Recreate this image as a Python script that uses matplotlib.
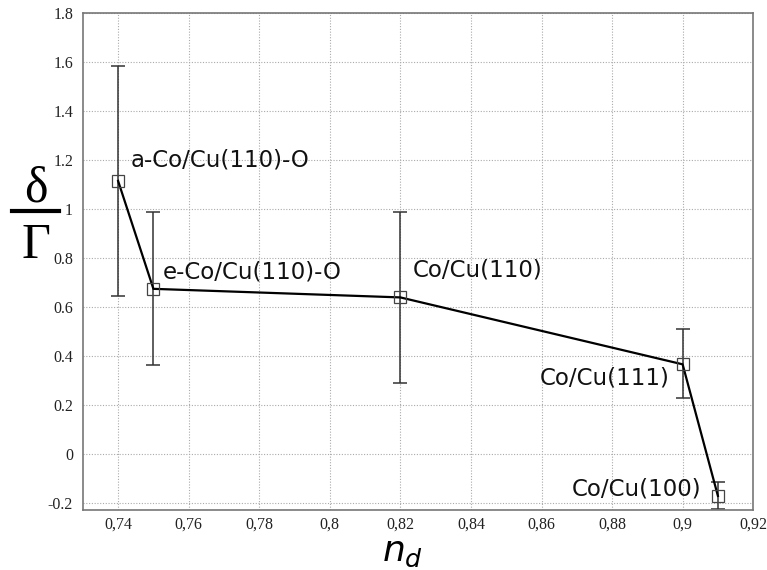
import matplotlib
matplotlib.use("Agg")
from matplotlib import pyplot as plt
from matplotlib.ticker import FuncFormatter, MultipleLocator
from matplotlib.lines import Line2D

# data
nd = [0.74, 0.75, 0.82, 0.90, 0.91]
ratio = [1.115, 0.675, 0.64, 0.367, -0.17]
err_low = [0.645, 0.365, 0.29, 0.228, -0.222]
err_high = [1.585, 0.987, 0.99, 0.51, -0.113]
names = ["a-Co/Cu(110)-O", "e-Co/Cu(110)-O", "Co/Cu(110)", "Co/Cu(111)", "Co/Cu(100)"]

yerr = [[r - lo for r, lo in zip(ratio, err_low)],
        [hi - r for r, hi in zip(ratio, err_high)]]

fig = plt.figure(figsize=(7.67, 5.70), dpi=100)
ax = fig.add_axes([0.108, 0.105, 0.874, 0.872])

ax.errorbar(nd, ratio, yerr=yerr, fmt='none', ecolor='#333333', elinewidth=1.1,
            capsize=5, capthick=1.1, zorder=2)
ax.plot(nd, ratio, color='black', lw=1.6, zorder=3)
ax.plot(nd, ratio, linestyle='none', marker='s', markersize=8, markerfacecolor='none',
        markeredgecolor='#444444', markeredgewidth=0.9, zorder=4)

# labels next to points
lab_font = dict(family='DejaVu Sans', fontsize=16.5, color='#111111')
ax.text(0.7436, 1.20, names[0], ha='left', va='center', **lab_font)
ax.text(0.7526, 0.745, names[1], ha='left', va='center', **lab_font)
ax.text(0.8234, 0.75, names[2], ha='left', va='center', **lab_font)
ax.text(0.8962, 0.31, names[3], ha='right', va='center', **lab_font)
ax.text(0.9052, -0.14, names[4], ha='right', va='center', **lab_font)

ax.set_xlim(0.73, 0.92)
ax.set_ylim(-0.228, 1.8)
ax.xaxis.set_major_locator(MultipleLocator(0.02))
ax.yaxis.set_major_locator(MultipleLocator(0.2))
ax.xaxis.set_major_formatter(FuncFormatter(lambda v, p: ('%g' % round(v, 2)).replace('.', ',')))
ax.yaxis.set_major_formatter(FuncFormatter(lambda v, p: '%g' % round(v, 2)))
ax.grid(True, color='#aaaaaa', linestyle=(0, (1, 1.5)), lw=0.8)
ax.tick_params(direction='in', length=0, labelsize=11.5, colors='#222222')
ax.tick_params(axis='x', pad=5)
ax.tick_params(axis='y', pad=7)
for lab in ax.get_xticklabels() + ax.get_yticklabels():
    lab.set_family('Liberation Serif')
for s in ax.spines.values():
    s.set_color('#777777')
    s.set_linewidth(1.2)

# y label drawn as a fraction delta / Gamma
fig.text(0.047, 0.668, 'δ', ha='center', va='center', fontsize=36,
         family='Liberation Serif')
fig.add_artist(Line2D([0.016, 0.077], [0.63, 0.63], transform=fig.transFigure,
                      color='black', lw=3))
fig.text(0.047, 0.568, 'Γ', ha='center', va='center', fontsize=36,
         family='Liberation Serif')

# x label n_d
fig.text(0.525, 0.032, r'$n_d$', ha='center', va='center', fontsize=26,
         math_fontfamily='dejavusans')

fig.savefig('out.png', dpi=100)
